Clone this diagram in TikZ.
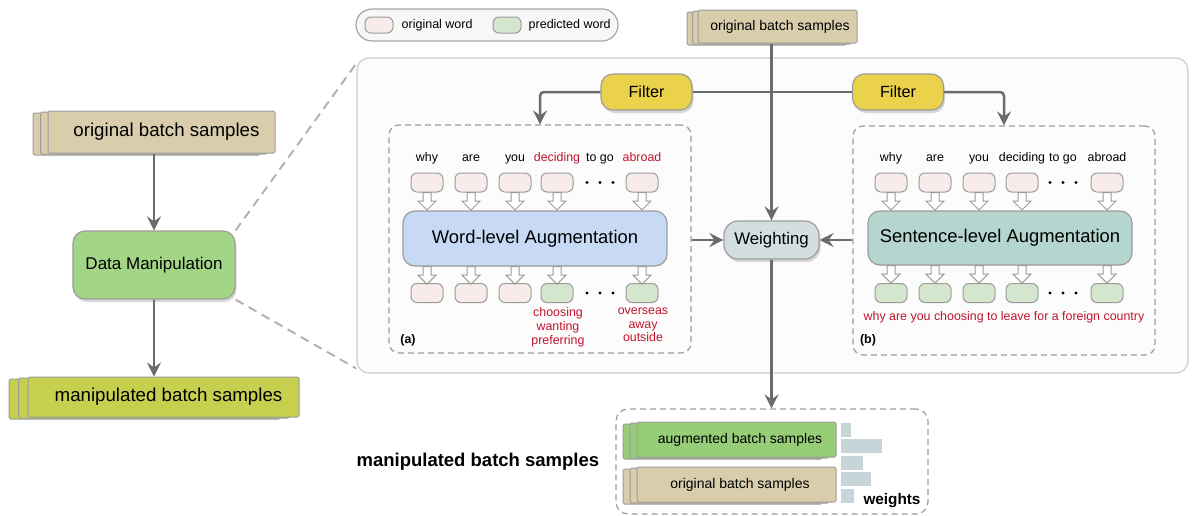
\documentclass[tikz,border=0pt]{standalone}
\usepackage{fontspec}
\setmainfont{Liberation Sans}
\usetikzlibrary{positioning,shadows,arrows.meta,calc}

\definecolor{arrgray}{HTML}{6B6B6B}
\definecolor{boxgray}{HTML}{9C9C9C}
\definecolor{tanc}{HTML}{D9CDAC}
\definecolor{olivec}{HTML}{C6CF4E}
\definecolor{dmgreen}{HTML}{A3D586}
\definecolor{augreen}{HTML}{98CD78}
\definecolor{filty}{HTML}{EBD24B}
\definecolor{wordblue}{HTML}{C7D9F4}
\definecolor{senteal}{HTML}{B4D6CF}
\definecolor{wgray}{HTML}{D3DEE1}
\definecolor{pinkw}{HTML}{F8ECEA}
\definecolor{greenw}{HTML}{D4E6CE}
\definecolor{redt}{HTML}{C0142C}
\definecolor{barc}{HTML}{C8D5D8}
\definecolor{panelc}{HTML}{FCFCFC}

\newcommand\fsz[1]{\fontsize{#1}{#1}\selectfont}
\newcommand\hollowarr[1]{\draw[hollow] (#1) ++(-4,0) -- ++(8,0) -- ++(0,8.5) -- ++(5,0) -- ++(-9,9) -- ++(-9,-9) -- ++(5,0) -- cycle;}

\tikzset{
 arr/.style={draw=arrgray, line width=2.5pt, -{Stealth[length=14pt,width=14pt,inset=5pt]}},
 conn/.style={draw=arrgray, line width=2.5pt},
 stack/.style n args={3}{fill=#1, draw=boxgray, line width=1pt, rounded corners=1.5pt, inner sep=0pt,
   copy shadow={fill=#1, draw=boxgray, shadow xshift=-#2, shadow yshift=-2pt},
   copy shadow={fill=#1, draw=boxgray, shadow xshift=-#3, shadow yshift=-1pt}},
 round/.style={draw=boxgray, line width=1.2pt, rounded corners=12pt, inner sep=0pt},
 shadowed/.style={drop shadow={opacity=0.3, shadow xshift=1.5pt, shadow yshift=-3pt}},
 filterbox/.style={round, shadowed, fill=filty, minimum width=91pt, minimum height=36pt, font=\fsz{16.2}},
 wbox/.style={draw=boxgray, line width=1pt, rounded corners=6pt, minimum width=32pt, minimum height=19pt, inner sep=0pt},
 hollow/.style={draw=boxgray, fill=white, line width=1pt},
 dashbox/.style={draw=boxgray, line width=1.2pt, dash pattern=on 6pt off 4pt, rounded corners=10pt, inner sep=0pt},
 zoomline/.style={draw=black!30, line width=2pt, dash pattern=on 9pt off 6pt},
 lbl/.style={font=\fsz{12.4}, inner sep=0pt, anchor=base},
}

\begin{document}
\begin{tikzpicture}[x=1pt,y=-1pt]
\useasboundingbox (0,0) rectangle (1192,515);
\def\ytop{182.5}
\def\ybot{293}

% left column
\node[stack={tanc}{15pt}{7.5pt}, minimum width=227pt, minimum height=42pt, font=\fsz{18.7}] (obsL) at (161.5,132) {\hspace{10pt}original batch samples};
\node[round, shadowed, fill=dmgreen, minimum width=162pt, minimum height=68pt, font=\fsz{17}] (dm) at (154,265) {Data Manipulation};
\node[stack={olivec}{19pt}{9.5pt}, minimum width=271pt, minimum height=40pt, font=\fsz{18.7}] (mbsL) at (163.5,397) {\hspace{10pt}manipulated batch samples};
\draw[arr] (obsL.south -| dm.north) -- (dm.north);
\draw[arr] (dm.south) -- (dm.south |- mbsL.north);

% panel and legend
\node[round, fill=panelc, draw=black!20, minimum width=831pt, minimum height=315pt] (panel) at (772.5,215.5) {};
\draw[zoomline] (dm.north east) -- ([yshift=-6pt]panel.north west);
\draw[zoomline] (dm.south east) -- ([yshift=5pt]panel.south west);
\node[round, rounded corners=16pt, fill=black!3, draw=black!35, minimum width=262pt, minimum height=32pt] (legend) at (487,25) {};
\node[wbox, fill=pinkw, minimum width=28pt, minimum height=16pt] (lgo) at (379,25) {};
\node[lbl, anchor=west, font=\fsz{12.5}, right=8pt of lgo] (lgot) {original word};
\node[wbox, fill=greenw, minimum width=28pt, minimum height=16pt] (lgp) at (507,25) {};
\node[lbl, anchor=west, font=\fsz{12.5}, right=7pt of lgp] (lgpt) {predicted word};

% top input and filters
\node[stack={tanc}{11pt}{5.5pt}, minimum width=159pt, minimum height=33pt, font=\fsz{14}] (obsT) at (777.5,26.5) {\hspace{5pt}original batch samples};
\node[filterbox] (filtA) at (646.5,92) {Filter};
\node[filterbox] (filtB) at (898,92) {Filter};

% (a) word level
\node[dashbox, minimum width=302pt, minimum height=228pt] (boxA) at (540,239) {};
\node[round, fill=wordblue, minimum width=264pt, minimum height=55pt, font=\fsz{18.4}] (augA) at (535,238.5) {Word-level Augmentation};
\foreach \n/\x/\w/\c/\f in {1/427/why/black/pinkw, 2/471/are/black/pinkw, 3/515/you/black/pinkw, 4/557/deciding/redt/greenw, 5/642/abroad/redt/greenw} {
 \node[wbox, fill=pinkw] (ta\n) at (\x,\ytop) {};
 \node[wbox, fill=\f] (ba\n) at (\x,\ybot) {};
 \node[lbl, text=\c] (la\n) at (\x,161.5) {\w};
 \hollowarr{ta\n.south}
 \hollowarr{ba\n.north |- augA.south}
}
\node[lbl] (lago) at (600,161.5) {to go};
\node[lbl, text=redt, anchor=north, align=center, font=\fontsize{12.4}{13.8}\selectfont] (alt4) at (558,307.5) {choosing\\wanting\\preferring};
\node[lbl, text=redt, anchor=north, align=center, font=\fontsize{12.4}{13.8}\selectfont] (alt5) at (643,307.5) {overseas\\away\\outside};
\node[lbl, anchor=center, font=\bfseries\fsz{12.4}] (tagA) at (408,340) {(a)};

% (b) sentence level
\node[dashbox, minimum width=302pt, minimum height=229pt] (boxB) at (1004,240.5) {};
\node[round, fill=senteal, minimum width=264pt, minimum height=54pt, font=\fsz{18.4}] (augB) at (1000,238) {Sentence-level Augmentation};
\foreach \n/\x/\w in {1/891/why, 2/935/are, 3/979/you, 4/1022/deciding, 5/1107/abroad} {
 \node[wbox, fill=pinkw] (tb\n) at (\x,\ytop) {};
 \node[wbox, fill=greenw] (bb\n) at (\x,\ybot) {};
 \node[lbl] (lb\n) at (\x,161.5) {\w};
 \hollowarr{tb\n.south}
 \hollowarr{bb\n.north |- augB.south}
}
\node[lbl] (lbgo) at (1063,161.5) {to go};
\node[lbl, anchor=center, text=redt] (sentB) at (1004,317) {why are you choosing to leave for a foreign country};
\node[lbl, anchor=center, font=\bfseries\fsz{12.4}] (tagB) at (868,340) {(b)};

\foreach \x in {600,1063}
 \foreach \y in {\ytop,\ybot}
  \foreach \d in {-13,0,13}
   \fill (\x+\d,\y) circle (1.6pt);

% weighting
\node[round, rounded corners=14pt, shadowed, fill=wgray, minimum width=95pt, minimum height=38pt, font=\fsz{16.8}] (wgt) at (771.5,240) {Weighting};
\draw[arr] (wgt.north |- obsT.south) -- (wgt.north);
\draw[conn] (filtA.east) -- (filtB.west);
\draw[arr, rounded corners=4pt] (filtA.west) -| (boxA.north);
\draw[arr, rounded corners=4pt] (filtB.east) -| (boxB.north);
\draw[arr] (boxA.east |- wgt.west) -- (wgt.west);
\draw[arr] (boxB.west |- wgt.east) -- (wgt.east);

% output batch
\node[dashbox, rounded corners=12pt, minimum width=312pt, minimum height=105pt] (mbox) at (772,461.5) {};
\draw[arr] (wgt.south) -- (wgt.south |- mbox.north);
\node[font=\bfseries\fsz{18.5}, inner sep=0pt, left=16pt of mbox] (mlbl) {manipulated batch samples};
\node[stack={augreen}{14pt}{7pt}, minimum width=199pt, minimum height=35pt, font=\fsz{14}] (augS) at (736.5,439.5) {\hspace{7pt}augmented batch samples};
\node[stack={tanc}{14pt}{7pt}, minimum width=199pt, minimum height=35pt, font=\fsz{14}] (orgS) at (736.5,484.5) {\hspace{7pt}original batch samples};
\foreach \t/\r in {423/851, 439/882, 456/863, 472/871, 489/854}
 \fill[barc] (841,\t) rectangle (\r,\t+14);
\node[font=\bfseries\fsz{15.3}, inner sep=0pt] (wlbl) at (892,501) {weights};
\end{tikzpicture}
\end{document}
